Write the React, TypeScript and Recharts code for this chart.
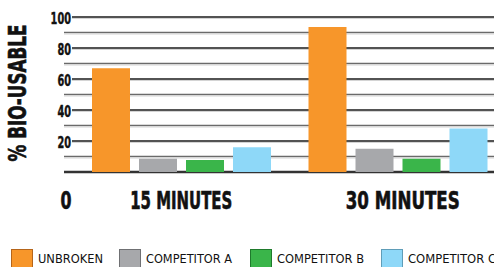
import { Bar, BarChart, CartesianGrid, Label, XAxis, YAxis } from "recharts";

const categories = ["15 MINUTES", "30  MINUTES"];
const unbroken = [67, 93.5];
const competitorA = [8.5, 15];
const competitorB = [7.8, 8.5];
const competitorC = [16, 28];
const yTicks = [0, 10, 20, 30, 40, 50, 60, 70, 80, 90, 100];
const yLabels = ["0", "", "20", "", "40", "", "60", "", "80", "", "100"];

const seriesNames = ["UNBROKEN", "COMPETITOR A", "COMPETITOR B", "COMPETITOR C"];
const seriesKeys = ["unbroken", "a", "b", "c"];
const colors = ["#f7962a", "#a7a8ab", "#3ab54a", "#8ed8f8"];
const borders = ["#b5651a", "#6f7073", "#1f7a2c", "#5f9db8"];

const data = categories.map((name, i) => ({
  name,
  unbroken: unbroken[i],
  a: competitorA[i],
  b: competitorB[i],
  c: competitorC[i],
}));

const font = "'DejaVu Sans Condensed', 'DejaVu Sans', sans-serif";
// the original uses a heavy display face, a thin outline fakes the weight
const heavy = { fontFamily: font, fontWeight: "bold" as const, fill: "#111", stroke: "#111", strokeWidth: 0.6 };

function GridLine(props: any) {
  const labeled = props.index % 2 === 0;
  const isZero = props.y1 > 170;
  const x1 = labeled && !isZero ? 72 : 64;
  if (isZero) {
    return <line key={props.key} x1={64} x2={494} y1={props.y1} y2={props.y1} stroke="#333" strokeWidth={2.5} />;
  }
  return (
    <g key={props.key}>
      <line x1={x1} x2={494} y1={props.y1} y2={props.y1} stroke={labeled ? "#1a1a1a" : "#6a6a6a"} strokeWidth={1.6} />
      <line x1={x1} x2={494} y1={props.y1 + 1.5} y2={props.y1 + 1.5} stroke="#d4d4d4" strokeWidth={1} />
    </g>
  );
}

function YTick({ x, y, payload }: any) {
  const label = yLabels[yTicks.indexOf(payload.value)] ?? "";
  if (!label) return null;
  if (payload.value === 0) {
    return (
      <text x={66} y={y + 37} textAnchor="middle" fontSize={24} textLength={11} lengthAdjust="spacingAndGlyphs" {...heavy}>
        0
      </text>
    );
  }
  return (
    <text x={x} y={y + 6.5} textAnchor="end" fontSize={16.5} textLength={label.length * 6.8} lengthAdjust="spacingAndGlyphs" {...heavy} strokeWidth={0.4}>
      {label}
    </text>
  );
}

function XTick({ x, payload }: any) {
  const w = payload.value.length > 10 ? 114 : 102;
  const dx = payload.index === 1 ? 5 : 0;
  return (
    <text x={x + dx} y={209} textAnchor="middle" fontSize={24} textLength={w} lengthAdjust="spacingAndGlyphs" {...heavy}>
      {payload.value}
    </text>
  );
}

function Legend() {
  const swatchX = [11, 119, 250, 381];
  const textW = [65, 86, 87, 88];
  return (
    <svg width={494} height={267} style={{ position: "absolute", left: 0, top: 0, pointerEvents: "none" }}>
      {seriesNames.map((n, i) => (
        <g key={n}>
          <rect x={swatchX[i] + 0.5} y={249.5} width={21} height={20} fill={colors[i]} stroke={borders[i]} strokeWidth={1} />
          <text x={swatchX[i] + 27} y={263} fontFamily={font} fontSize={13} fill="#111" textLength={textW[i]} lengthAdjust="spacingAndGlyphs">
            {n}
          </text>
        </g>
      ))}
    </svg>
  );
}

export default function App() {
  return (
    <div style={{ position: "absolute", left: 0, top: 0, width: 494, height: 267, overflow: "hidden", background: "#fff" }}>
      <BarChart
        width={512}
        height={267}
        data={data}
        margin={{ top: 17, right: 6, left: 0, bottom: 55 }}
        barCategoryGap={19}
        barGap={9}
      >
        <CartesianGrid vertical={false} horizontal={GridLine as any} />
        <XAxis dataKey="name" axisLine={false} tickLine={false} tick={XTick} height={40} interval={0} />
        <YAxis
          domain={[0, 100]}
          ticks={yTicks}
          width={73}
          axisLine={false}
          tickLine={false}
          tickSize={0}
          tickMargin={2}
          tick={YTick}
          interval={0}
        >
          <Label
            content={() => (
              <text
                x={17}
                y={93}
                transform="rotate(-90 17 93)"
                textAnchor="middle"
                dominantBaseline="central"
                fontSize={25}
                textLength={137}
                lengthAdjust="spacingAndGlyphs"
                {...heavy}
              >
                % BIO-USABLE
              </text>
            )}
          />
        </YAxis>
        {seriesKeys.map((k, i) => (
          <Bar key={k} dataKey={k} fill={colors[i]} isAnimationActive={false} />
        ))}
      </BarChart>
      <Legend />
    </div>
  );
}
